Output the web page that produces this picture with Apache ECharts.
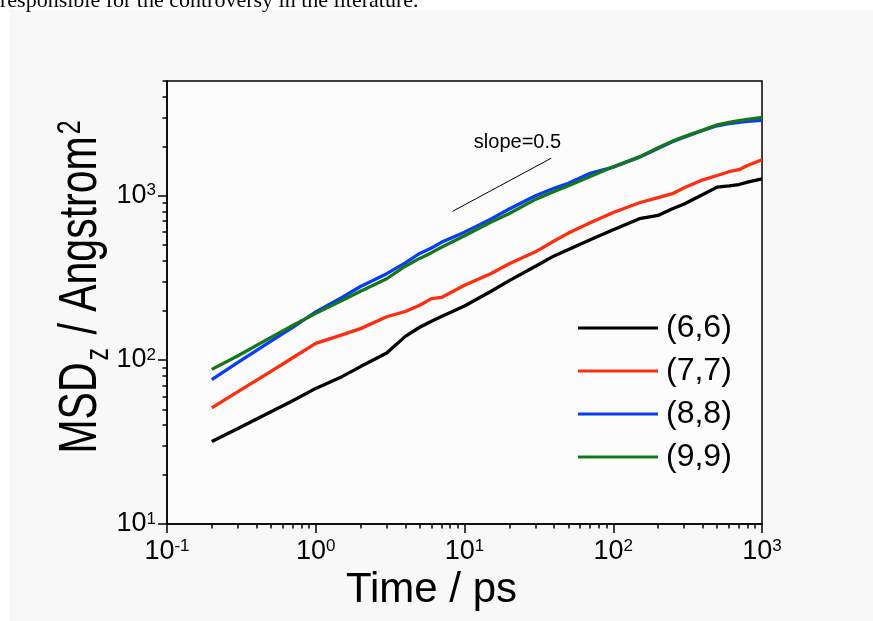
<!DOCTYPE html>
<html><head><meta charset="utf-8">
<script src="https://cdn.jsdelivr.net/npm/echarts@6/dist/echarts.min.js"></script>
<style>html,body{margin:0;padding:0;background:#fff}#c{width:873px;height:621px}</style>
</head><body><div id="c"></div>
<script>
const seriesNames = ['(6,6)', '(7,7)', '(8,8)', '(9,9)'];
const times  = [0.2, 0.3, 0.5, 0.7, 1, 1.5, 2, 3, 4, 5, 6, 7, 10, 15, 20, 30, 40, 50, 70, 100, 150, 200, 250, 300, 400, 500, 600, 700, 800, 1000];
const msd66 = [31.8, 38.2, 48.3, 56.3, 67, 79, 91, 110, 139, 158, 172, 184, 213, 261, 304, 372, 430, 470, 540, 620, 725, 758, 834, 890, 1018, 1128, 1150, 1170, 1210, 1268];
const msd77 = [51, 64, 85, 103, 126, 142, 155, 183, 197, 215, 236, 240, 285, 335, 385, 455, 530, 592, 685, 790, 906, 973, 1029, 1119, 1250, 1328, 1400, 1440, 1528, 1656];
const msd88 = [75.7, 96.5, 130, 158, 196, 240, 280, 335, 390, 445, 480, 520, 600, 720, 830, 1000, 1110, 1190, 1370, 1493, 1718, 1940, 2130, 2270, 2497, 2667, 2750, 2800, 2840, 2880];
const msd99 = [87.5, 106, 137, 162, 192, 230, 262, 312, 372, 415, 450, 485, 570, 690, 780, 950, 1060, 1150, 1310, 1500, 1725, 1960, 2150, 2290, 2510, 2700, 2800, 2870, 2920, 3000];
const slopeX = [8.3, 38.3];
const slopeY = [803, 1693];
const xMajor = [0.1, 1, 10, 100, 1000];
const xMinor = [0.2, 0.3, 0.4, 0.5, 0.6, 0.7, 0.8, 0.9, 2, 3, 4, 5, 6, 7, 8, 9, 20, 30, 40, 50, 60, 70, 80, 90, 200, 300, 400, 500, 600, 700, 800, 900];
const yMajor = [10, 100, 1000];
const yMinor = [20, 30, 40, 50, 60, 70, 80, 90, 200, 300, 400, 500, 600, 700, 800, 900, 2000, 3000, 4000, 5000];
const colors = ['#000000', '#ff2d0f', '#0b3cf5', '#14781a'];
const allSeries = [msd66, msd77, msd88, msd99];

const FONT = '"Liberation Sans", Arial, sans-serif';
const chart = echarts.init(document.getElementById('c'), null, {renderer: 'canvas'});
const powLabel = v => '{b|10}{s|' + Math.round(Math.log10(v)) + '}';
const powRich = {
  b: {fontSize: 27, lineHeight: 27, fontFamily: FONT, color: '#000'},
  s: {fontSize: 17, lineHeight: 17, fontFamily: FONT, color: '#000', verticalAlign: 'top'}
};
const axisLineStyle = {color: '#000', width: 1.5};

const series = allSeries.map((vals, i) => ({
  name: seriesNames[i], type: 'line', symbol: 'none', showSymbol: false,
  xAxisIndex: 0, yAxisIndex: 0,
  lineStyle: {color: colors[i], width: 3.3}, itemStyle: {color: colors[i]},
  data: times.map((t, k) => [t, vals[k]]), z: 3 + i
}));
series.push({
  name: 'slope', type: 'line', symbol: 'none', silent: true,
  xAxisIndex: 0, yAxisIndex: 0,
  lineStyle: {color: '#000', width: 1}, itemStyle: {color: '#000'},
  data: slopeX.map((x, k) => [x, slopeY[k]])
});

chart.setOption({
  animation: false,
  backgroundColor: '#ffffff',
  graphic: [
    {type: 'rect', z: -100, shape: {x: 10, y: 9.5, width: 863, height: 612}, style: {fill: '#f8f8f8'}},
    {type: 'text', z: 10, x: 0, y: 12.5, style: {text: 'responsible for the controversy in the literature.', font: '22px "Liberation Serif", "Times New Roman", serif', fill: '#000', verticalAlign: 'bottom', align: 'left'}},
    {type: 'text', z: 10, x: 517.5, y: 142, style: {text: 'slope=0.5', font: '20px ' + FONT, fill: '#000', align: 'center', verticalAlign: 'middle'}},
    {type: 'text', z: 10, x: 81, y: 287, rotation: Math.PI / 2, scaleX: 1, scaleY: 1.3,
     style: {text: '{m|MSD}{z|z}{m| / Angstrom}{p|2}', align: 'center', verticalAlign: 'middle', fill: '#000',
       font: '41px ' + FONT,
       rich: {
         m: {fontSize: 41, lineHeight: 41, fontFamily: FONT, fill: '#000', color: '#000'},
         z: {fontSize: 25, lineHeight: 25, fontFamily: FONT, fill: '#000', color: '#000', verticalAlign: 'bottom', padding: [0, 2, -6, 2]},
         p: {fontSize: 25, lineHeight: 25, fontFamily: FONT, fill: '#000', color: '#000', verticalAlign: 'top', padding: [0, 0, 0, 2]}
       }}}
  ],
  grid: {left: 167, top: 81, right: 111, bottom: 97, show: true, borderColor: '#000', borderWidth: 1.5, backgroundColor: '#fcfcfc', containLabel: false},
  legend: {
    data: seriesNames, orient: 'vertical', left: 578, top: 312, padding: 0,
    icon: 'rect', itemWidth: 80, itemHeight: 3, itemGap: 11,
    textStyle: {fontSize: 32, lineHeight: 32, fontFamily: FONT, color: '#000', padding: [0, 0, 0, 3]}
  },
  xAxis: [
    {type: 'log', logBase: 10, min: 0.1, max: 1000, position: 'bottom',
     axisLine: {show: true, lineStyle: axisLineStyle},
     axisTick: {show: true, inside: false, length: 9, lineStyle: axisLineStyle, customValues: xMajor},
     axisLabel: {show: true, margin: 14, customValues: xMajor, formatter: powLabel, rich: powRich},
     splitLine: {show: false}, minorTick: {show: false},
     name: 'Time / ps', nameLocation: 'middle', nameGap: 41,
     nameTextStyle: {fontSize: 42, lineHeight: 42, fontFamily: FONT, color: '#000', padding: [0, 66, 0, 0]}},
    {type: 'log', logBase: 10, min: 0.1, max: 1000, position: 'bottom',
     axisLine: {show: false},
     axisTick: {show: true, inside: false, length: 4.5, lineStyle: axisLineStyle, customValues: xMinor},
     axisLabel: {show: false}, splitLine: {show: false}}
  ],
  yAxis: [
    {type: 'log', logBase: 10, min: 10, max: 5000, position: 'left',
     axisLine: {show: true, lineStyle: axisLineStyle},
     axisTick: {show: true, inside: false, length: 9, lineStyle: axisLineStyle, customValues: yMajor},
     axisLabel: {show: true, margin: 11, customValues: yMajor, formatter: powLabel, rich: powRich},
     splitLine: {show: false}, minorTick: {show: false}},
    {type: 'log', logBase: 10, min: 10, max: 5000, position: 'left',
     axisLine: {show: false},
     axisTick: {show: true, inside: false, length: 4.5, lineStyle: axisLineStyle, customValues: yMinor},
     axisLabel: {show: false}, splitLine: {show: false}}
  ],
  series: series
});
</script></body></html>
